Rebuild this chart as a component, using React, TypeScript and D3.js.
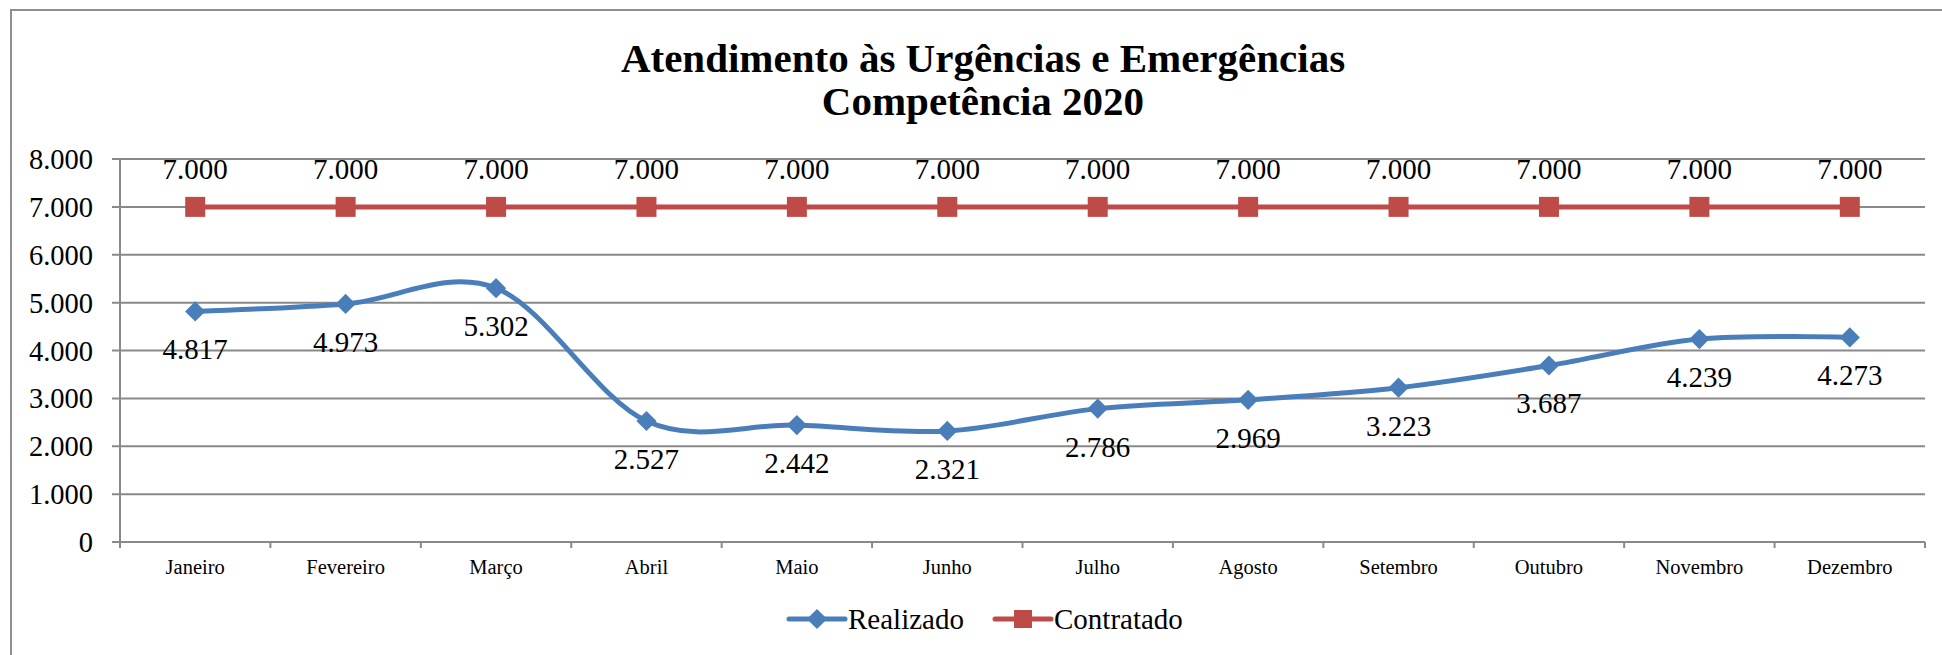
import * as d3 from "d3";
import { useEffect, useRef } from "react";

// ---- dados ----
const meses = ["Janeiro", "Fevereiro", "Março", "Abril", "Maio", "Junho", "Julho", "Agosto", "Setembro", "Outubro", "Novembro", "Dezembro"];
const realizado = [4817, 4973, 5302, 2527, 2442, 2321, 2786, 2969, 3223, 3687, 4239, 4273];
const contratado = [7000, 7000, 7000, 7000, 7000, 7000, 7000, 7000, 7000, 7000, 7000, 7000];
const yTicks = [0, 1000, 2000, 3000, 4000, 5000, 6000, 7000, 8000];
const titulo = ["Atendimento às Urgências e Emergências", "Competência 2020"];
const legenda = ["Realizado", "Contratado"];

const fmt = (v: number) => d3.format(",")(v).replace(/,/g, ".");

export default function App() {
  const ref = useRef<SVGSVGElement | null>(null);

  useEffect(() => {
    const width = 1942;
    const height = 655;
    const plot = { left: 120, right: 1925, top: 159, bottom: 542 };
    const font = "'Liberation Serif', 'Times New Roman', serif";
    const grid = "#898989";
    const azul = "#4A7EBB";
    const vermelho = "#BE4B48";

    const svg = d3.select(ref.current);
    svg.selectAll("*").remove();
    svg.attr("width", width).attr("height", height).attr("font-family", font);

    svg.append("rect").attr("width", width).attr("height", height).attr("fill", "#fff");

    // moldura do gráfico
    svg.append("rect")
      .attr("x", 11).attr("y", 10)
      .attr("width", 1970).attr("height", 700)
      .attr("fill", "none").attr("stroke", "#8f8f8f").attr("stroke-width", 2);

    // ---- título ----
    svg.append("text")
      .attr("x", 983).attr("y", 72)
      .attr("text-anchor", "middle")
      .attr("font-size", 41).attr("font-weight", 700)
      .selectAll("tspan")
      .data(titulo)
      .join("tspan")
      .attr("x", 983)
      .attr("dy", (_, i) => (i === 0 ? 0 : 43))
      .text((d) => d);

    // ---- escalas ----
    const x = d3.scaleBand().domain(meses).range([plot.left, plot.right]);
    const y = d3.scaleLinear().domain([0, 8000]).range([plot.bottom, plot.top]);
    const cx = (m: string) => (x(m) ?? 0) + x.bandwidth() / 2;

    // ---- grade horizontal ----
    svg.append("g")
      .selectAll("line")
      .data(yTicks)
      .join("line")
      .attr("x1", plot.left - 8).attr("x2", plot.right)
      .attr("y1", (d) => y(d)).attr("y2", (d) => y(d))
      .attr("stroke", grid).attr("stroke-width", 2);

    // eixo y
    svg.append("line")
      .attr("x1", plot.left).attr("x2", plot.left)
      .attr("y1", plot.top).attr("y2", plot.bottom)
      .attr("stroke", grid).attr("stroke-width", 2);

    svg.append("g")
      .selectAll("text")
      .data(yTicks)
      .join("text")
      .attr("x", 93)
      .attr("y", (d) => y(d) + 10)
      .attr("text-anchor", "end")
      .attr("font-size", 28.5)
      .text((d) => fmt(d));

    // eixo x: marcas entre categorias
    const limites = meses.map((m) => x(m) ?? 0).concat([plot.right]);
    svg.append("g")
      .selectAll("line")
      .data(limites)
      .join("line")
      .attr("x1", (d) => d).attr("x2", (d) => d)
      .attr("y1", plot.bottom).attr("y2", plot.bottom + 6)
      .attr("stroke", grid).attr("stroke-width", 2);

    svg.append("g")
      .selectAll("text")
      .data(meses)
      .join("text")
      .attr("x", (d) => cx(d))
      .attr("y", 574)
      .attr("text-anchor", "middle")
      .attr("font-size", 20.5)
      .text((d) => d);

    // ---- linhas ----
    const linha = d3.line<number>()
      .x((_, i) => cx(meses[i]))
      .y((d) => y(d));

    svg.append("path")
      .datum(contratado)
      .attr("d", linha.curve(d3.curveLinear))
      .attr("fill", "none").attr("stroke", vermelho).attr("stroke-width", 5);

    svg.append("path")
      .datum(realizado)
      .attr("d", linha.curve(d3.curveCardinal.tension(0)))
      .attr("fill", "none").attr("stroke", azul).attr("stroke-width", 5)
      .attr("stroke-linecap", "round");

    // marcadores
    svg.append("g")
      .selectAll("rect")
      .data(contratado)
      .join("rect")
      .attr("x", (_, i) => cx(meses[i]) - 10)
      .attr("y", (d) => y(d) - 10)
      .attr("width", 20).attr("height", 20)
      .attr("fill", vermelho);

    const diamante = d3.symbol().type(d3.symbolDiamond2).size(260);
    svg.append("g")
      .selectAll("path")
      .data(realizado)
      .join("path")
      .attr("transform", (d, i) => `translate(${cx(meses[i])},${y(d)})`)
      .attr("d", diamante)
      .attr("fill", azul);

    // rótulos de dados
    svg.append("g")
      .selectAll("text")
      .data(contratado)
      .join("text")
      .attr("x", (_, i) => cx(meses[i]))
      .attr("y", (d) => y(d) - 28)
      .attr("text-anchor", "middle")
      .attr("font-size", 29)
      .text((d) => fmt(d));

    svg.append("g")
      .selectAll("text")
      .data(realizado)
      .join("text")
      .attr("x", (_, i) => cx(meses[i]))
      .attr("y", (d) => y(d) + 48)
      .attr("text-anchor", "middle")
      .attr("font-size", 29)
      .text((d) => fmt(d));

    // ---- legenda ----
    const ly = 619;
    const itens = [
      { nome: legenda[0], cor: azul, x0: 789, tipo: "d" },
      { nome: legenda[1], cor: vermelho, x0: 995, tipo: "s" },
    ];
    const lg = svg.append("g");
    itens.forEach((it) => {
      lg.append("line")
        .attr("x1", it.x0).attr("x2", it.x0 + 56)
        .attr("y1", ly).attr("y2", ly)
        .attr("stroke", it.cor).attr("stroke-width", 5).attr("stroke-linecap", "round");
      if (it.tipo === "d") {
        lg.append("path")
          .attr("transform", `translate(${it.x0 + 28},${ly})`)
          .attr("d", diamante)
          .attr("fill", it.cor);
      } else {
        lg.append("rect")
          .attr("x", it.x0 + 19).attr("y", ly - 9)
          .attr("width", 18).attr("height", 18)
          .attr("fill", it.cor);
      }
      lg.append("text")
        .attr("x", it.x0 + 59).attr("y", ly + 10)
        .attr("font-size", 29)
        .text(it.nome);
    });
  }, []);

  return (
    <svg
      ref={ref}
      style={{ position: "absolute", left: 0, top: 0, display: "block" }}
    />
  );
}
